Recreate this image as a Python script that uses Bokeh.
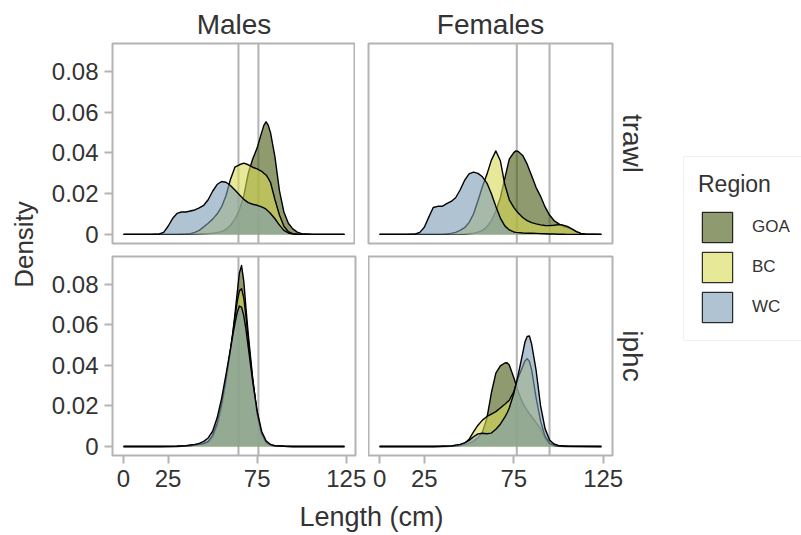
from math import pi

import numpy as np
from bokeh.embed import file_html
from bokeh.layouts import column, row
from bokeh.models import (ColumnDataSource, FixedTicker, Label, Legend,
                          LegendItem, Range1d, Span, Title)
from bokeh.plotting import figure
from bokeh.resources import INLINE

# ------------------------------------------------------------------ data
regions = ["GOA", "BC", "WC"]
sexes = ["Males", "Females"]
gears = ["trawl", "iphc"]

# length grids (cm) for each panel
len_males_trawl = [0, 15, 20, 22.5, 25, 27.5, 30, 32.5, 35, 37.5, 40, 42.5, 45, 47.5,
                   50, 52.5, 55, 57.5, 60, 62.5, 65, 67.5, 70, 72.5, 75, 77.5, 78.75,
                   80, 81.25, 82.5, 85, 87.5, 90, 92.5, 95, 97.5, 100, 105, 110, 124]
len_females_trawl = [0, 15, 20, 22.5, 25, 27.5, 30, 32.5, 35, 37.5, 40, 42.5, 45, 47.5,
                     50, 52.5, 55, 57.5, 60, 62.5, 65, 67.5, 70, 72.5, 75, 76.25, 77.5,
                     80, 82.5, 85, 87.5, 90, 92.5, 95, 97.5, 100, 102.5, 105, 107.5,
                     110, 112.5, 115, 124]
len_males_iphc = [0, 20, 30, 35, 37.5, 40, 42.5, 45, 47.5, 50, 52.5, 55, 57.5, 60,
                  61.25, 62.5, 63.75, 65, 66.25, 67.5, 68.75, 70, 71.25, 72.5, 75,
                  77.5, 80, 82.5, 85, 90, 95, 100, 124]
len_females_iphc = [0, 20, 30, 35, 40, 45, 47.5, 50, 52.5, 55, 57.5, 60, 62.5, 65,
                    67.5, 70, 71.25, 72.5, 75, 77.5, 80, 81.25, 82.5, 83.75, 85, 87.5,
                    90, 92.5, 95, 97.5, 100, 105, 124]

# density of length by region
dens_males_trawl_goa = [0, 0, 0, 0, 0, 0, 0, 0, 0, 0.0001, 0.0001, 0.0002, 0.0003, 0.0004,
                        0.0006, 0.0009, 0.0014, 0.0025, 0.0045, 0.0075, 0.012, 0.019, 0.030,
                        0.037, 0.0425, 0.050, 0.0535, 0.0553, 0.0535, 0.050, 0.038, 0.0215,
                        0.011, 0.0055, 0.0027, 0.0011, 0.0004, 0.0001, 0, 0]
dens_males_trawl_bc = [0, 0, 0, 0, 0, 0, 0, 0.0001, 0.0002, 0.0004, 0.001, 0.002, 0.0037,
                       0.0055, 0.0075, 0.010, 0.0135, 0.019, 0.027, 0.033, 0.0342, 0.035,
                       0.0342, 0.033, 0.0322, 0.031, 0.030, 0.0292, 0.0275, 0.0255, 0.017,
                       0.0095, 0.004, 0.0013, 0.0004, 0.0001, 0, 0, 0, 0]
dens_males_trawl_wc = [0, 0, 0.0002, 0.001, 0.004, 0.0078, 0.0103, 0.011, 0.011, 0.0115,
                       0.012, 0.013, 0.0143, 0.017, 0.0212, 0.0245, 0.026, 0.0256, 0.024,
                       0.0218, 0.0195, 0.0172, 0.0156, 0.0148, 0.0143, 0.0135, 0.013,
                       0.0124, 0.0114, 0.0103, 0.0077, 0.0046, 0.002, 0.0007, 0.0002,
                       0.0001, 0, 0, 0, 0]

dens_females_trawl_goa = [0, 0, 0, 0, 0, 0, 0, 0, 0, 0, 0, 0, 0, 0.0001, 0.0003, 0.0006,
                          0.0011, 0.002, 0.0038, 0.0068, 0.0115, 0.018, 0.0275, 0.037,
                          0.0402, 0.041, 0.0407, 0.0388, 0.0345, 0.0288, 0.023, 0.0187,
                          0.0135, 0.0095, 0.0068, 0.0053, 0.004, 0.0033, 0.0025, 0.0014,
                          0.0004, 0.0001, 0]
dens_females_trawl_bc = [0, 0, 0, 0, 0, 0, 0, 0, 0, 0.0002, 0.0005, 0.001, 0.002, 0.0033,
                         0.0058, 0.010, 0.0165, 0.0235, 0.0295, 0.0365, 0.041, 0.0362,
                         0.0245, 0.017, 0.0133, 0.0118, 0.0105, 0.0083, 0.0068, 0.0058,
                         0.0052, 0.0047, 0.0044, 0.0043, 0.0045, 0.0048, 0.0046, 0.0039,
                         0.0027, 0.0014, 0.0005, 0.0002, 0]
dens_females_trawl_wc = [0, 0, 0.0002, 0.001, 0.0035, 0.0085, 0.0132, 0.0138, 0.0138,
                         0.0151, 0.0162, 0.018, 0.0218, 0.0265, 0.0297, 0.0306, 0.030,
                         0.0283, 0.0252, 0.020, 0.0137, 0.008, 0.0042, 0.0022, 0.0012,
                         0.001, 0.0009, 0.0007, 0.0006, 0.0006, 0.0005, 0.0004, 0.0003,
                         0.0002, 0.0002, 0.0001, 0.0001, 0, 0, 0, 0, 0, 0]

dens_males_iphc_goa = [0, 0, 0, 0.0002, 0.0004, 0.0006, 0.0009, 0.0013, 0.002, 0.0045,
                       0.0098, 0.019, 0.032, 0.0475, 0.0555, 0.065, 0.0755, 0.0855, 0.0893,
                       0.0815, 0.068, 0.0555, 0.0445, 0.0335, 0.0155, 0.0058, 0.0018,
                       0.0006, 0.0002, 0.0001, 0, 0, 0]
dens_males_iphc_bc = [0, 0, 0.0001, 0.0003, 0.0005, 0.0007, 0.001, 0.0015, 0.0025, 0.0055,
                      0.0115, 0.021, 0.0335, 0.0475, 0.0555, 0.0635, 0.0712, 0.0768, 0.0778,
                      0.0732, 0.0638, 0.053, 0.0425, 0.033, 0.0165, 0.0065, 0.0022, 0.0008,
                      0.0003, 0.0001, 0, 0, 0]
dens_males_iphc_wc = [0, 0, 0.0001, 0.0004, 0.0007, 0.001, 0.0015, 0.0025, 0.0042, 0.0075,
                      0.014, 0.0235, 0.0355, 0.048, 0.0545, 0.0605, 0.066, 0.0693, 0.0688,
                      0.0645, 0.0575, 0.049, 0.0405, 0.032, 0.0175, 0.0075, 0.0028, 0.001,
                      0.0004, 0.0001, 0, 0, 0]

dens_females_iphc_goa = [0, 0, 0, 0, 0.0001, 0.0004, 0.0008, 0.0015, 0.0026, 0.0042,
                         0.0072, 0.014, 0.0265, 0.0362, 0.0398, 0.0412, 0.0413, 0.0402,
                         0.034, 0.027, 0.0215, 0.0195, 0.0178, 0.0162, 0.0148, 0.0118,
                         0.0088, 0.004, 0.0012, 0.0004, 0.0001, 0, 0]
dens_females_iphc_bc = [0, 0, 0, 0.0001, 0.0002, 0.0008, 0.0016, 0.0035, 0.0072, 0.0105,
                        0.013, 0.0148, 0.016, 0.0172, 0.019, 0.0208, 0.0218, 0.0228, 0.027,
                        0.034, 0.0395, 0.0422, 0.0433, 0.042, 0.0378, 0.024, 0.0125, 0.005,
                        0.0017, 0.0006, 0.0002, 0.0001, 0]
dens_females_iphc_wc = [0, 0, 0, 0.0001, 0.0003, 0.001, 0.0018, 0.003, 0.0048, 0.0062,
                        0.0065, 0.0063, 0.0066, 0.0085, 0.011, 0.0145, 0.0165, 0.019, 0.026,
                        0.0355, 0.046, 0.0515, 0.0543, 0.0545, 0.0505, 0.0375, 0.020, 0.0088,
                        0.0032, 0.0012, 0.0005, 0.0001, 0]

# reference lengths (cm) marked in each sex column
vlines_males = [64.5, 75.7]
vlines_females = [76.7, 95.0]

x_ticks = [0, 25, 75, 125]
y_ticks = [0, 0.02, 0.04, 0.06, 0.08]
y_tick_labels = ["0", "0.02", "0.04", "0.06", "0.08"]

# ------------------------------------------------------------------ styling
FONT = "Liberation Sans"
INK = "#333333"
FRAME = "#b3b3b3"
ALPHA = 0.6
fill_colors = {"GOA": "#44580f", "BC": "#d9d955", "WC": "#7b9bb6"}

panel_data = {
    ("Males", "trawl"): (len_males_trawl, {"GOA": dens_males_trawl_goa,
                                           "BC": dens_males_trawl_bc,
                                           "WC": dens_males_trawl_wc}),
    ("Females", "trawl"): (len_females_trawl, {"GOA": dens_females_trawl_goa,
                                               "BC": dens_females_trawl_bc,
                                               "WC": dens_females_trawl_wc}),
    ("Males", "iphc"): (len_males_iphc, {"GOA": dens_males_iphc_goa,
                                         "BC": dens_males_iphc_bc,
                                         "WC": dens_males_iphc_wc}),
    ("Females", "iphc"): (len_females_iphc, {"GOA": dens_females_iphc_goa,
                                             "BC": dens_females_iphc_bc,
                                             "WC": dens_females_iphc_wc}),
}
vlines = {"Males": vlines_males, "Females": vlines_females}

# shared scales with a 5% expansion on each side
all_len = [v for lens, _ in panel_data.values() for v in lens]
all_dens = [v for _, cur in panel_data.values() for c in cur.values() for v in c]
x_lo, x_hi = min(all_len), max(all_len)
x_pad = 0.05 * (x_hi - x_lo)
y_hi = max(all_dens)
x_range = Range1d(x_lo - x_pad, x_hi + x_pad)
y_range = Range1d(-0.05 * y_hi, 1.05 * y_hi)


def style_axis(ax, ticks, overrides=None):
    ax.ticker = FixedTicker(ticks=ticks)
    if overrides:
        ax.major_label_overrides = overrides
    ax.axis_line_color = None
    ax.major_tick_line_color = FRAME
    ax.major_tick_line_width = 2
    ax.major_tick_out = 8
    ax.major_tick_in = 0
    ax.minor_tick_line_color = None
    ax.major_label_text_font = FONT
    ax.major_label_text_font_size = "24px"
    ax.major_label_text_color = INK
    ax.major_label_standoff = 6


def strip_title(text):
    return Title(text=text, align="center", text_font=FONT, text_font_size="28px",
                 text_font_style="normal", text_color=INK, standoff=8)


# panel frame placement: (left, right, top, bottom) borders per row/column
borders = {
    (0, 0): (72, 0, 43, 8),
    (0, 1): (13, 40, 43, 8),
    (1, 0): (72, 13, 5, 42),
    (1, 1): (0, 40, 5, 42),
}


def make_panel(sex, gear, ri, ci):
    lengths, curves = panel_data[(sex, gear)]
    left, bottom = ci == 0, ri == 1
    bl, br, bt, bb = borders[(ri, ci)]
    p = figure(frame_width=243 if left else 244, frame_height=200 if ri == 0 else 199,
               x_range=x_range, y_range=y_range, title=None,
               x_axis_location="below" if bottom else None,
               y_axis_location="left" if left else None,
               min_border_left=bl, min_border_right=br,
               min_border_top=bt, min_border_bottom=bb,
               output_backend="svg", toolbar_location=None)
    p.outline_line_color = FRAME
    p.outline_line_width = 2
    p.xgrid.visible = False
    p.ygrid.visible = False
    for v in vlines[sex]:
        p.add_layout(Span(location=v, dimension="height", line_color=FRAME,
                          line_width=2, level="underlay"))
    for reg in regions:
        src = ColumnDataSource(dict(length=lengths, density=curves[reg]))
        p.varea(x="length", y1=0, y2="density", source=src,
                fill_color=fill_colors[reg], fill_alpha=ALPHA)
        p.line(x="length", y="density", source=src, line_color="black",
               line_width=1.4, line_join="round")
    if left:
        style_axis(p.yaxis[0], y_ticks, dict(zip(y_ticks, y_tick_labels)))
    if bottom:
        style_axis(p.xaxis[0], x_ticks)
    if ri == 0:
        p.add_layout(strip_title(sex), "above")
    if ci == 1:
        p.add_layout(strip_title(gear), "right")
    return p


grid_rows = []
for ri, gear in enumerate(gears):
    grid_rows.append(row(*[make_panel(sex, gear, ri, ci) for ci, sex in enumerate(sexes)]))


def blank(width, height):
    f = figure(width=width, height=height, x_range=(0, width), y_range=(0, height),
               title=None, x_axis_location=None, y_axis_location=None,
               min_border=0, output_backend="svg", toolbar_location=None)
    f.outline_line_color = None
    f.xgrid.visible = False
    f.ygrid.visible = False
    return f


# y-axis title spanning both rows
ylab = blank(40, 535)
ylab.add_layout(Label(x=23, y=291, text="Density", angle=pi / 2, text_align="center",
                      text_baseline="middle", text_font=FONT, text_font_size="26px",
                      text_color=INK))

# x-axis title spanning both columns
xlab = blank(612, 38)
xlab.add_layout(Label(x=331, y=19, text="Length (cm)", text_align="center",
                      text_baseline="middle", text_font=FONT, text_font_size="27px",
                      text_color=INK))

# legend: key-only quads (no drawable extent) carry the region styles
leg_fig = blank(149, 535)
items = []
for reg in regions:
    key = ColumnDataSource(dict(l=np.array([np.nan]), r=np.array([np.nan]),
                                b=np.array([np.nan]), t=np.array([np.nan])))
    rend = leg_fig.quad(left="l", right="r", bottom="b", top="t", source=key,
                        fill_color=fill_colors[reg], fill_alpha=ALPHA,
                        line_color="black", line_width=1)
    items.append(LegendItem(label=reg, renderers=[rend]))
legend = Legend(items=items, location=(30, 194), title="Region",
                title_text_font=FONT, title_text_font_size="23px",
                title_text_font_style="normal", title_text_color=INK, title_standoff=10,
                label_text_font=FONT, label_text_font_size="17px", label_text_color=INK,
                glyph_width=38, glyph_height=38, label_height=38, spacing=2,
                padding=14, margin=0, label_standoff=16,
                border_line_color="#e3e3e3", border_line_width=1,
                background_fill_color="white", background_fill_alpha=1)
leg_fig.add_layout(legend)

layout = row(ylab, column(*grid_rows, xlab), leg_fig)

open("out.html", "w").write(file_html(layout, INLINE, title="Length density by region"))
